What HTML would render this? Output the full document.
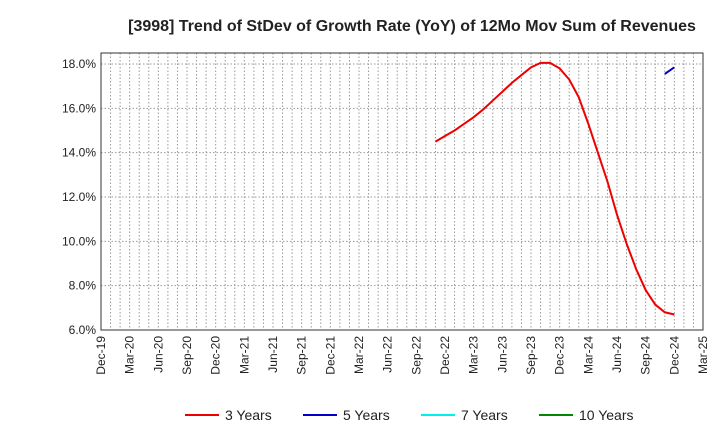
<!DOCTYPE html>
<html><head><meta charset="utf-8"><style>
body{margin:0;background:#fff;font-family:"Liberation Sans",sans-serif}
</style></head><body>
<svg id="c" width="720" height="440" xmlns="http://www.w3.org/2000/svg">
<text x="412" y="31" text-anchor="middle" font-size="16" font-weight="bold" fill="#222">[3998]  Trend of StDev of Growth Rate (YoY) of 12Mo Mov Sum of Revenues</text>
<g id="grid"></g><g id="axes"></g><g id="series"></g><g id="legend"></g>
</svg>
<script>
const xTickLabels=["Dec-19","Mar-20","Jun-20","Sep-20","Dec-20","Mar-21","Jun-21","Sep-21","Dec-21","Mar-22","Jun-22","Sep-22","Dec-22","Mar-23","Jun-23","Sep-23","Dec-23","Mar-24","Jun-24","Sep-24","Dec-24","Mar-25"];
const yTicks=[6,8,10,12,14,16,18];
const red3yStart=35;
const red3y=[14.5,14.75,15.0,15.3,15.6,15.95,16.35,16.75,17.15,17.5,17.85,18.05,18.05,17.8,17.3,16.5,15.3,14.0,12.7,11.2,9.9,8.75,7.8,7.15,6.8,6.7];
const blue5yStart=59;
const blue5y=[17.55,17.85];
const L=101,R=703,T=53,B=330,NM=63;
const xs=m=>L+(R-L)*m/NM;
const ys=v=>B-(v-6)*(B-64)/12;
const NS="http://www.w3.org/2000/svg";
function mk(t,a,p){const e=document.createElementNS(NS,t);for(const k in a)e.setAttribute(k,a[k]);p.appendChild(e);return e;}
const g=document.getElementById('grid'),ax=document.getElementById('axes'),s=document.getElementById('series'),lg=document.getElementById('legend');
for(let m=1;m<NM;m++){const l=mk('line',{x1:xs(m),x2:xs(m),y1:T,y2:B,stroke:'#999','stroke-dasharray':'1.5,2','stroke-width':1},g);

}
yTicks.forEach(v=>{const l=mk('line',{x1:L,x2:R,y1:ys(v),y2:ys(v),stroke:'#999','stroke-dasharray':'1.5,2'},g);


const t=mk('text',{x:L-5,y:ys(v)+4,'text-anchor':'end','font-size':12,fill:'#222'},ax);t.textContent=v.toFixed(1)+'%';

});
const fr=mk('rect',{x:L,y:T,width:R-L,height:B-T,fill:'none',stroke:'#333'},ax);


xTickLabels.forEach((lb,i)=>{const x=xs(i*3);const t=mk('text',{transform:`translate(${x+4},${B+6}) rotate(-90)`,'text-anchor':'end','font-size':12,fill:'#222'},ax);t.textContent=lb;

});
function line(data,st,col,name){const p=mk('polyline',{points:data.map((v,i)=>xs(st+i)+','+ys(v)).join(' '),fill:'none',stroke:col,'stroke-width':2},s);

}
line(red3y,red3yStart,'#e00','line-3-years');
line(blue5y,blue5yStart,'#00c','line-5-years');
[["3 Years","#e00",185],["5 Years","#00c",303],["7 Years","#0ee",421],["10 Years","#080",539]].forEach(([n,c,x])=>{
const e=mk('g',{},lg);


mk('line',{x1:x,x2:x+34,y1:415,y2:415,stroke:c,'stroke-width':2},e);
const t=mk('text',{x:x+40,y:420,'font-size':14,fill:'#222'},e);t.textContent=n;});
</script>
</body></html>
